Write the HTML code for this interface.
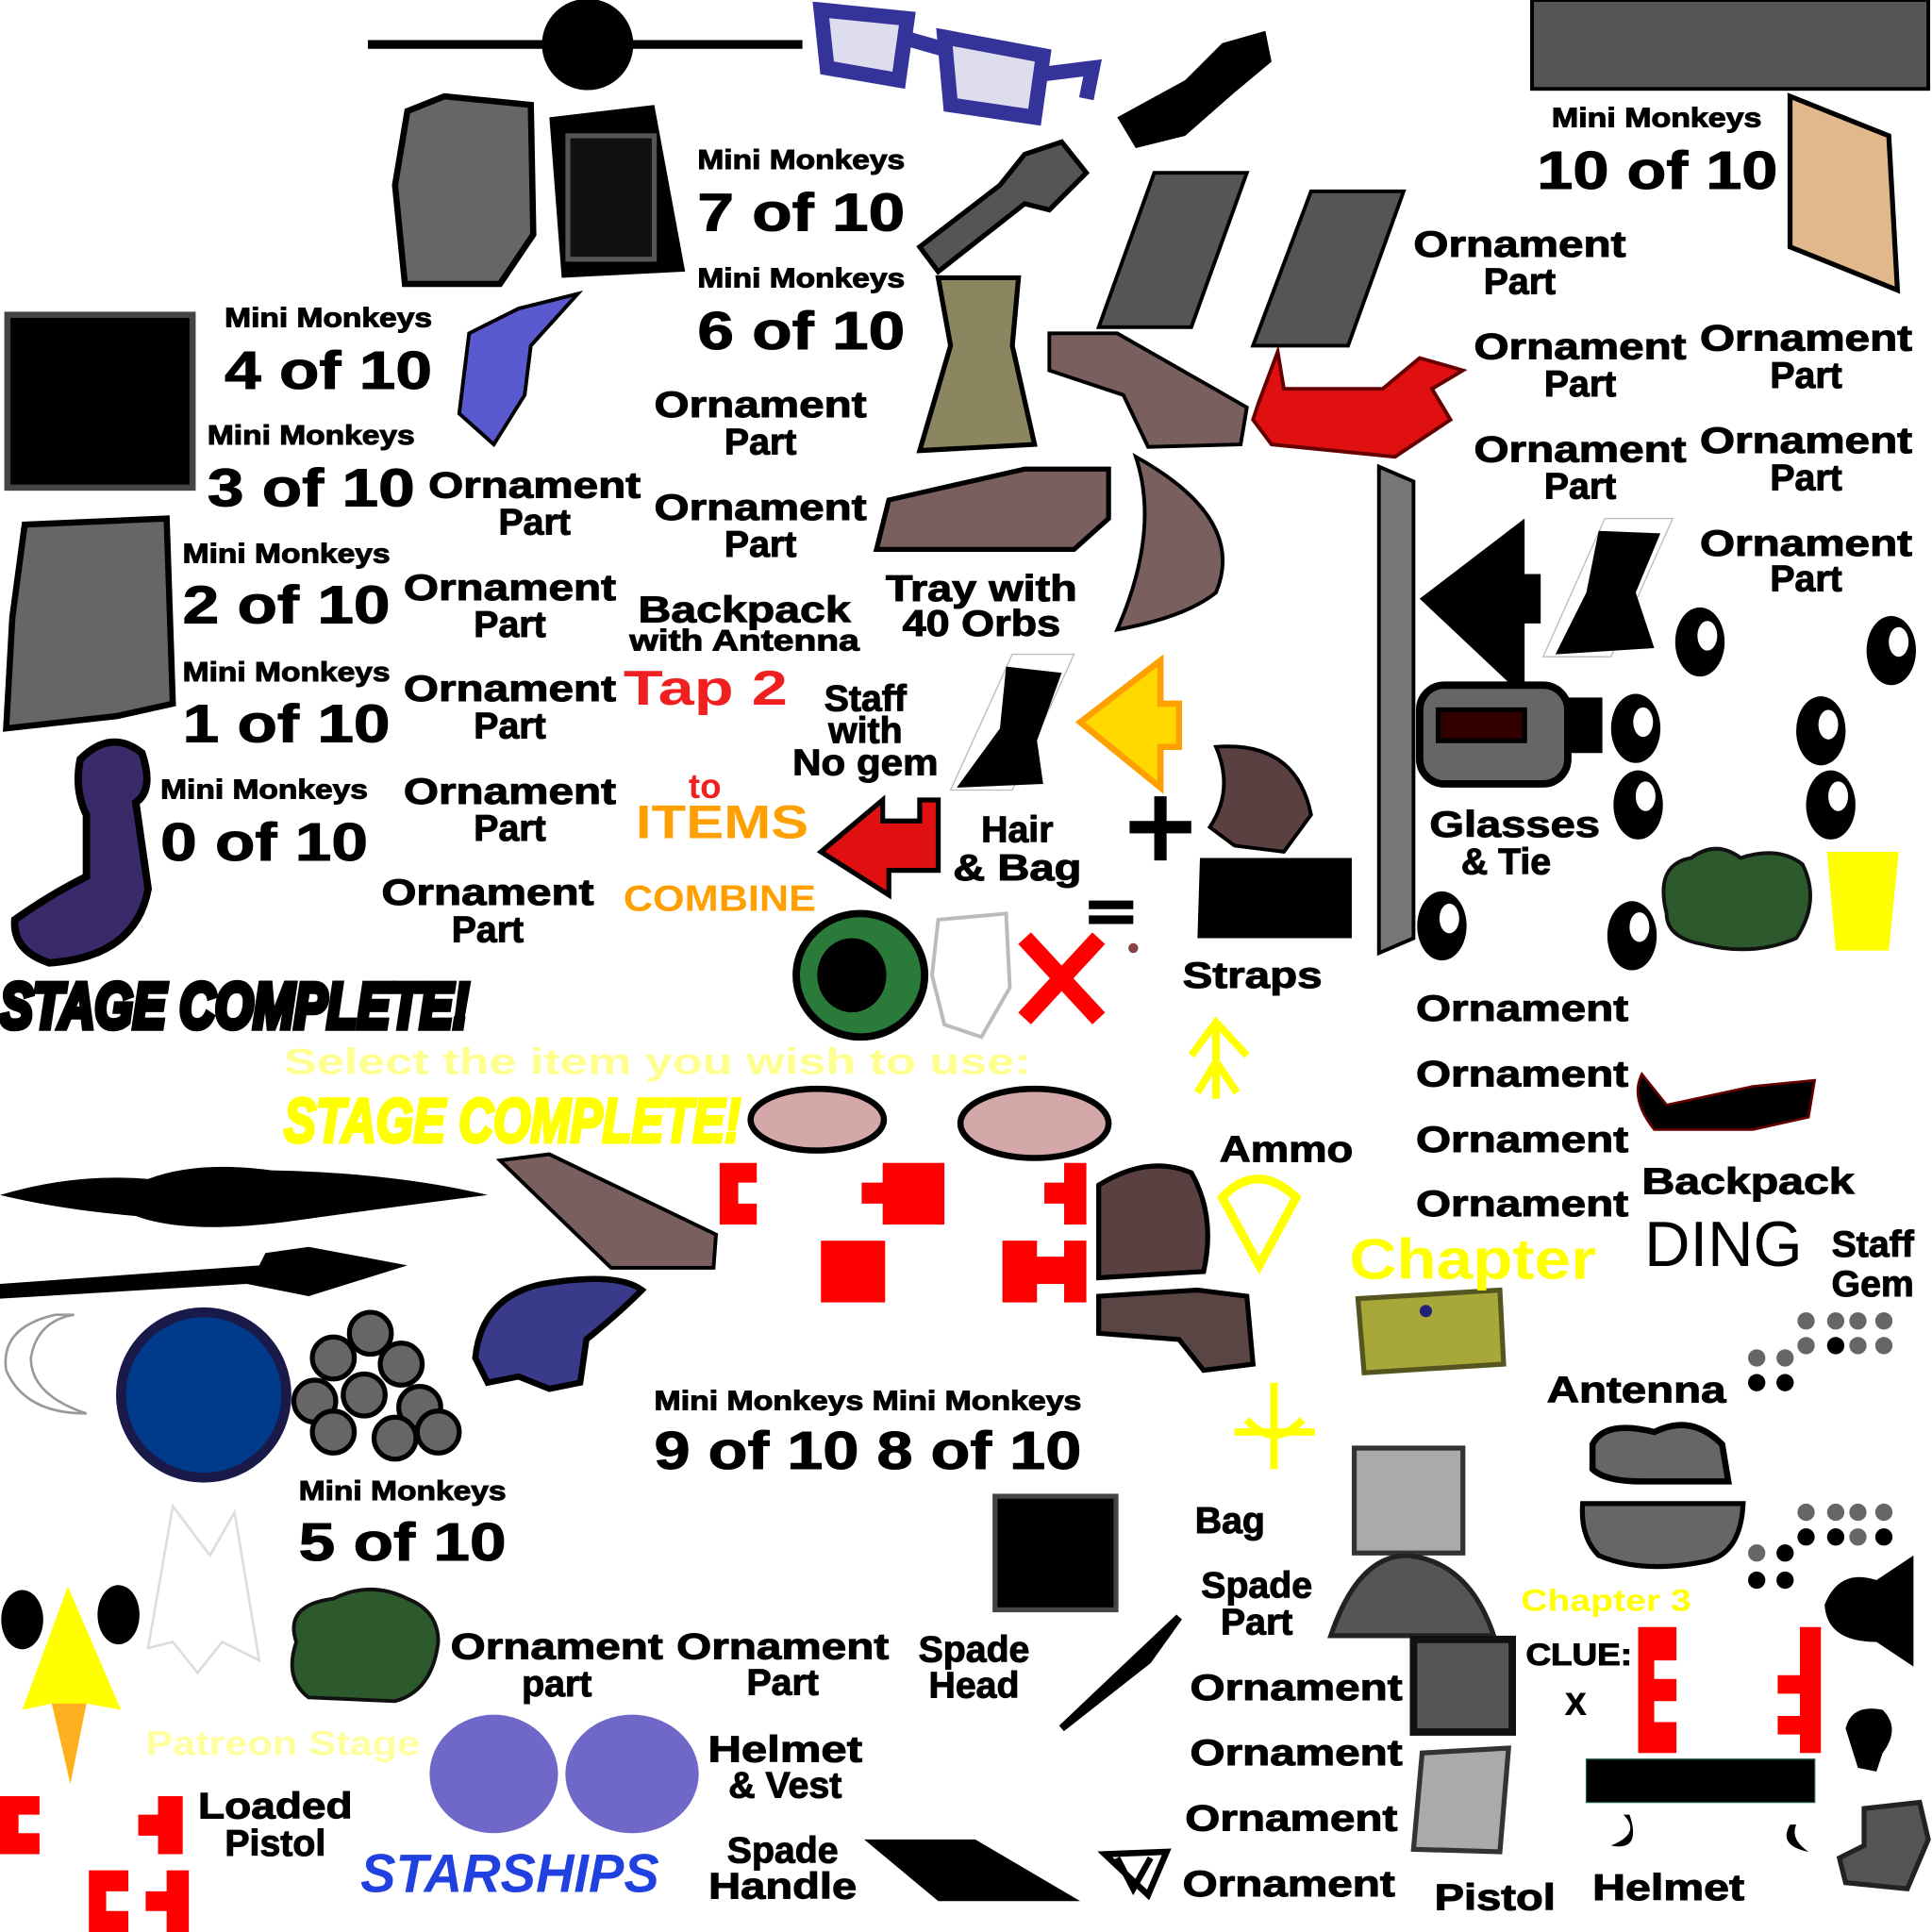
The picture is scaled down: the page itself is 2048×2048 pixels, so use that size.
<!DOCTYPE html>
<html><head><meta charset="utf-8"><style>
html,body{margin:0;padding:0;background:#fff}
svg{display:block}
text{font-family:"Liberation Sans",sans-serif;font-weight:bold;fill:#000;dominant-baseline:central;stroke:#000;stroke-width:0.8}
.mm{font-size:22px}.nn{font-size:43px}.op{font-size:30px}
.c{stroke:none}
</style></head><body>
<svg width="2048" height="2048" viewBox="0 0 1565 1565" xmlns="http://www.w3.org/2000/svg">
<rect width="1565" height="1565" fill="#fff"/>
<line x1="298" y1="36" x2="650" y2="36" stroke="#000" stroke-width="7"/>
<circle cx="476" cy="36" r="37" fill="#000"/>
<g fill="#dde" stroke="#33339a" stroke-width="12"><path d="M665 8 L735 15 L728 65 L670 55Z"/><path d="M765 30 L845 45 L838 95 L770 85Z"/></g>
<path d="M730 30 L765 40 M845 60 L885 55 L880 80" stroke="#33339a" stroke-width="12" fill="none"/>
<path d="M905 95 L960 65 L990 35 L1025 25 L1030 50 L1000 75 L960 110 L920 120Z" fill="#000"/>
<rect x="1241" y="0" width="321" height="72" fill="#555" stroke="#000" stroke-width="3"/>
<path d="M1450 78 L1530 110 L1537 235 L1450 200Z" fill="#e0b88c" stroke="#000" stroke-width="4"/>
<path d="M935 140 L1010 140 L965 265 L890 265Z" fill="#555" stroke="#000" stroke-width="3"/>
<path d="M1062 155 L1137 155 L1092 280 L1015 280Z" fill="#555" stroke="#000" stroke-width="3"/>
<path d="M330 90 L360 78 L430 85 L432 190 L405 230 L328 230 L320 150Z" fill="#666" stroke="#000" stroke-width="5"/>
<path d="M445 95 L530 85 L555 220 L455 225Z" fill="#000"/><rect x="460" y="110" width="70" height="100" fill="#111" stroke="#555" stroke-width="4"/>
<rect x="6" y="255" width="150" height="140" fill="#000" stroke="#444" stroke-width="5"/>
<path d="M20 425 L135 420 L140 570 L95 580 L5 590 L10 500Z" fill="#666" stroke="#000" stroke-width="5"/>
<path d="M380 270 L420 250 L468 238 L430 280 L425 320 L400 360 L372 335Z" fill="#5a5ad0" stroke="#000" stroke-width="3"/>
<path d="M745 200 L810 150 L830 125 L860 115 L880 140 L850 170 L830 165 L760 220Z" fill="#555" stroke="#000" stroke-width="4"/>
<path d="M760 225 L825 225 L820 280 L838 360 L745 365 L770 280Z" fill="#8c8660" stroke="#000" stroke-width="4"/>
<path d="M850 270 L905 270 L1010 330 L1005 360 L930 362 L910 320 L850 300Z" fill="#7a5f5f" stroke="#000" stroke-width="3"/>
<path d="M720 405 L830 380 L898 380 L898 420 L870 445 L710 445Z" fill="#7a5f5f" stroke="#000" stroke-width="4"/>
<path d="M920 370 Q1010 420 985 480 Q960 500 905 510 Q940 430 920 370Z" fill="#7a5f5f" stroke="#000" stroke-width="3"/>
<path d="M1020 325 L1035 285 L1040 315 L1120 315 L1150 290 L1185 300 L1160 315 L1175 340 L1130 370 L1030 360 L1015 340Z" fill="#e01010" stroke="#600" stroke-width="3"/>
<path d="M1117 378 L1145 390 L1145 760 L1117 772Z" fill="#777" stroke="#000" stroke-width="3"/>
<path d="M1150 485 L1235 420 L1235 465 L1248 465 L1248 505 L1235 505 L1235 565Z" fill="#000"/>
<path d="M1300 420 L1355 420 L1305 532 L1250 532Z" fill="#fff" stroke="#bbb"/>
<path d="M1295 430 L1345 432 L1325 480 L1340 525 L1260 530 L1285 480Z" fill="#000"/>
<path d="M820 530 L870 530 L820 640 L770 640Z" fill="#fff" stroke="#bbb"/>
<path d="M815 540 L860 545 L840 600 L845 635 L775 638 L810 590Z" fill="#000"/>
<g fill="#000"><ellipse cx="1377" cy="520" rx="20" ry="28"/><ellipse cx="1532" cy="527" rx="20" ry="28"/><ellipse cx="1325" cy="590" rx="20" ry="28"/><ellipse cx="1475" cy="592" rx="20" ry="28"/><ellipse cx="1327" cy="652" rx="20" ry="28"/><ellipse cx="1483" cy="652" rx="20" ry="28"/><ellipse cx="1168" cy="750" rx="20" ry="28"/><ellipse cx="1322" cy="758" rx="20" ry="28"/></g>
<g fill="#fff"><ellipse cx="1383" cy="515" rx="8" ry="12"/><ellipse cx="1538" cy="520" rx="8" ry="12"/><ellipse cx="1331" cy="585" rx="8" ry="12"/><ellipse cx="1481" cy="587" rx="8" ry="12"/><ellipse cx="1333" cy="645" rx="8" ry="12"/><ellipse cx="1489" cy="645" rx="8" ry="12"/><ellipse cx="1174" cy="744" rx="8" ry="12"/><ellipse cx="1328" cy="751" rx="8" ry="12"/></g>
<rect x="1150" y="555" width="120" height="80" rx="20" fill="#666" stroke="#000" stroke-width="6"/><rect x="1270" y="565" width="28" height="45" fill="#000"/><rect x="1165" y="575" width="70" height="25" fill="#300" stroke="#000" stroke-width="4"/>
<path d="M1350 740 Q1340 700 1370 695 Q1390 680 1410 695 Q1440 685 1460 700 Q1475 730 1455 760 Q1420 775 1380 765 Q1350 760 1350 740Z" fill="#2c5a2c" stroke="#111" stroke-width="3"/>
<path d="M1480 690 L1538 690 L1530 770 L1487 770Z" fill="#ffff00"/>
<path d="M65 615 Q90 590 115 610 Q125 640 110 650 L120 720 Q110 775 40 780 Q10 770 12 745 Q40 725 70 710 L70 660 Q60 640 65 615Z" fill="#3a2a6a" stroke="#000" stroke-width="6"/>
<text x="0" y="815" font-size="52" font-style="italic" textLength="380" lengthAdjust="spacingAndGlyphs" style="stroke-width:5">STAGE COMPLETE!</text>
<path d="M875 585 L940 535 L940 570 L955 570 L955 605 L940 605 L940 638Z" fill="#ffd800" stroke="#ffa000" stroke-width="5"/>
<path d="M665 690 L715 648 L715 665 L745 665 L745 648 L760 648 L760 705 L720 705 L720 725Z" fill="#e01010" stroke="#000" stroke-width="4"/>
<path d="M915 670 L965 670 M940 645 L940 697" stroke="#000" stroke-width="10"/>
<path d="M882 733 L918 733 M882 745 L918 745" stroke="#000" stroke-width="7"/>
<path d="M985 605 Q1050 600 1062 660 L1040 690 L1000 685 L980 670 Q1000 640 985 605Z" fill="#5a4040" stroke="#000" stroke-width="3"/>
<path d="M972 695 L1095 695 L1095 760 L970 760Z" fill="#000"/>
<ellipse cx="697" cy="790" rx="52" ry="50" fill="#2a7a3a" stroke="#000" stroke-width="6"/><ellipse cx="690" cy="790" rx="28" ry="30" fill="#000"/>
<path d="M760 745 L815 740 L818 800 L795 840 L765 830 L755 790Z" fill="#fff" stroke="#bbb" stroke-width="3"/>
<path d="M830 760 L890 825 M890 760 L830 825" stroke="#f00" stroke-width="14"/>
<circle cx="918" cy="768" r="4" fill="#844"/>
<path d="M985 890 L985 830 M965 855 L985 828 L1010 855 M985 860 L970 885 M985 860 L1002 885" stroke="#ffff00" stroke-width="6" fill="none"/>
<path d="M990 970 Q1018 940 1050 970 L1020 1025Z" fill="none" stroke="#ffff00" stroke-width="7"/>
<path d="M1032 1120 L1032 1190 M1000 1160 L1065 1160 M1010 1150 Q1032 1175 1055 1150" stroke="#ffff00" stroke-width="6" fill="none"/>
<ellipse cx="662" cy="907" rx="54" ry="25" fill="#d4a8a8" stroke="#000" stroke-width="5"/>
<ellipse cx="838" cy="910" rx="60" ry="28" fill="#d4a8a8" stroke="#000" stroke-width="5"/>
<g fill="#f00"><path d="M583 942 L613 942 L613 958 L598 958 L598 975 L613 975 L613 992 L583 992Z"/><path d="M715 942 L765 942 L765 992 L715 992 L715 975 L698 975 L698 958 L715 958Z"/><rect x="665" y="1005" width="52" height="50"/><path d="M862 942 L880 942 L880 992 L862 992 L862 975 L846 975 L846 958 L862 958Z"/><path d="M812 1005 L840 1005 L840 1018 L862 1018 L862 1005 L880 1005 L880 1055 L862 1055 L862 1040 L840 1040 L840 1055 L812 1055Z"/>
<path d="M0 1455 L32 1455 L32 1470 L15 1470 L15 1485 L32 1485 L32 1502 L0 1502Z"/><path d="M128 1455 L148 1455 L148 1502 L128 1502 L128 1487 L112 1487 L112 1470 L128 1470Z"/><path d="M72 1515 L104 1515 L104 1532 L86 1532 L86 1548 L104 1548 L104 1565 L72 1565Z"/><path d="M135 1515 L153 1515 L153 1565 L135 1565 L135 1548 L118 1548 L118 1532 L135 1532Z"/>
<path d="M1327 1318 L1358 1318 L1358 1345 L1340 1345 L1340 1360 L1358 1360 L1358 1378 L1340 1378 L1340 1395 L1358 1395 L1358 1420 L1327 1420Z"/><path d="M1458 1318 L1475 1318 L1475 1420 L1458 1420 L1458 1405 L1440 1405 L1440 1390 L1458 1390 L1458 1372 L1440 1372 L1440 1357 L1458 1357Z"/></g>
<path d="M405 940 L445 935 L580 1000 L578 1027 L495 1027Z" fill="#7a5f5f" stroke="#000" stroke-width="3"/>
<path d="M0 968 Q60 950 120 955 Q160 940 220 948 Q320 950 395 968 Q300 980 230 990 Q150 1000 110 985 Q50 980 0 968Z" fill="#000"/>
<path d="M0 1040 L210 1025 L215 1015 L250 1010 L330 1025 L250 1050 L200 1040 L0 1052Z" fill="#000"/>
<path d="M45 1065 Q0 1075 5 1110 Q20 1145 70 1145 Q25 1130 25 1100 Q30 1070 60 1065Z" fill="#fff" stroke="#999" stroke-width="2"/>
<circle cx="165" cy="1130" r="67" fill="#003a8a" stroke="#1a1a4a" stroke-width="8"/>
<g fill="#666" stroke="#000" stroke-width="4"><circle cx="300" cy="1080" r="17"/><circle cx="270" cy="1100" r="17"/><circle cx="325" cy="1105" r="17"/><circle cx="255" cy="1135" r="17"/><circle cx="295" cy="1130" r="17"/><circle cx="340" cy="1140" r="17"/><circle cx="270" cy="1160" r="17"/><circle cx="320" cy="1165" r="17"/><circle cx="355" cy="1160" r="17"/></g>
<path d="M385 1100 Q390 1050 440 1040 Q500 1030 520 1045 Q500 1065 475 1085 L470 1120 L445 1125 L420 1115 L395 1120Z" fill="#3a3a8a" stroke="#000" stroke-width="5"/>
<path d="M890 960 Q930 935 965 950 Q985 985 975 1030 L890 1035Z" fill="#5a4040" stroke="#000" stroke-width="4"/>
<path d="M890 1050 L970 1045 L1010 1050 L1015 1105 L975 1110 L955 1085 L890 1080Z" fill="#5a4545" stroke="#000" stroke-width="4"/>
<path d="M1330 870 L1350 895 L1420 880 L1470 875 L1465 905 L1420 915 L1340 915 Q1320 890 1330 870Z" fill="#000" stroke="#600" stroke-width="2"/>
<path d="M1100 1052 L1215 1045 L1218 1105 L1105 1112Z" fill="#a8a83a" stroke="#555520" stroke-width="4"/><circle cx="1155" cy="1062" r="5" fill="#22227a"/>
<g fill="#666"><circle cx="1463" cy="1070" r="7"/><circle cx="1487" cy="1070" r="7"/><circle cx="1505" cy="1070" r="7"/><circle cx="1526" cy="1070" r="7"/><circle cx="1463" cy="1090" r="7"/><circle cx="1505" cy="1090" r="7"/><circle cx="1526" cy="1090" r="7"/><circle cx="1423" cy="1100" r="7"/><circle cx="1446" cy="1100" r="7"/>
<circle cx="1463" cy="1225" r="7"/><circle cx="1487" cy="1225" r="7"/><circle cx="1505" cy="1225" r="7"/><circle cx="1526" cy="1225" r="7"/><circle cx="1505" cy="1245" r="7"/><circle cx="1423" cy="1258" r="7"/></g>
<g fill="#000"><circle cx="1487" cy="1090" r="7"/><circle cx="1423" cy="1120" r="7"/><circle cx="1446" cy="1120" r="7"/><circle cx="1463" cy="1245" r="7"/><circle cx="1487" cy="1245" r="7"/><circle cx="1526" cy="1245" r="7"/><circle cx="1446" cy="1258" r="7"/><circle cx="1423" cy="1280" r="7"/><circle cx="1446" cy="1280" r="7"/></g>
<path d="M1290 1170 Q1300 1150 1340 1160 Q1370 1145 1395 1170 L1400 1200 L1330 1200 Q1300 1200 1290 1190Z" fill="#666" stroke="#000" stroke-width="5"/>
<path d="M1282 1218 L1412 1218 Q1410 1260 1380 1265 Q1330 1275 1295 1260 Q1280 1245 1282 1218Z" fill="#666" stroke="#000" stroke-width="4"/>
<rect x="1097" y="1173" width="88" height="85" fill="#aaa" stroke="#333" stroke-width="4"/>
<path d="M1078 1325 Q1100 1260 1140 1260 Q1190 1265 1210 1325Z" fill="#555" stroke="#222" stroke-width="4"/>
<rect x="1145" y="1328" width="80" height="75" fill="#555" stroke="#111" stroke-width="6"/>
<path d="M1152 1420 L1222 1416 L1215 1500 L1145 1498Z" fill="#aaa" stroke="#333" stroke-width="4"/>
<path d="M1478 1300 Q1490 1270 1520 1280 L1550 1260 L1550 1350 L1520 1330 Q1480 1330 1478 1300Z" fill="#000"/>
<path d="M1495 1400 Q1500 1380 1525 1385 Q1540 1400 1525 1420 L1520 1435 L1505 1432 Z" fill="#000"/>
<path d="M1510 1465 L1555 1460 L1562 1490 L1545 1530 L1495 1525 L1490 1505 L1510 1495Z" fill="#555" stroke="#222" stroke-width="4"/>
<rect x="1285" y="1425" width="185" height="35" fill="#000" stroke="#1a5a3a" stroke-width="1"/>
<path d="M1315 1470 Q1330 1485 1305 1495 Q1330 1500 1320 1470Z" fill="#000"/><path d="M1450 1478 Q1440 1495 1465 1500 Q1450 1490 1455 1478Z" fill="#000"/>
<rect x="806" y="1212" width="98" height="92" fill="#000" stroke="#444" stroke-width="4"/>
<path d="M860 1400 L955 1310 L930 1345Z" fill="#000" stroke="#000" stroke-width="6"/>
<path d="M700 1490 L790 1490 L875 1540 L760 1540Z" fill="#000"/>
<path d="M895 1502 L945 1500 L930 1535Z M905 1505 L918 1530 L932 1505" fill="none" stroke="#000" stroke-width="5"/>
<ellipse cx="400" cy="1437" rx="52" ry="48" fill="#7068c8"/><ellipse cx="512" cy="1437" rx="54" ry="48" fill="#7068c8"/>
<path d="M240 1330 Q230 1300 270 1295 Q300 1280 330 1295 Q355 1305 355 1330 Q350 1370 320 1378 L250 1375 Q230 1360 240 1330Z" fill="#2c5a2c" stroke="#111" stroke-width="3"/>
<ellipse cx="18" cy="1312" rx="17" ry="24" fill="#000"/><ellipse cx="96" cy="1308" rx="17" ry="24" fill="#000"/>
<path d="M55 1285 L98 1385 L70 1380 L57 1445 L42 1380 L18 1385Z" fill="#ffff00"/><path d="M42 1380 L70 1380 L57 1445Z" fill="#ffb020"/>
<path d="M120 1335 L140 1220 L170 1260 L190 1225 L210 1345 L180 1330 L160 1355 L140 1330Z" fill="#fff" stroke="#ddd" stroke-width="2"/>
<!-- TEXTS -->
<text class="mm" x="1257" y="96" textLength="170" lengthAdjust="spacingAndGlyphs">Mini Monkeys</text>
<text class="nn" x="1245" y="138" textLength="195" lengthAdjust="spacingAndGlyphs">10 of 10</text>
<text class="mm" x="565" y="130" textLength="168" lengthAdjust="spacingAndGlyphs">Mini Monkeys</text>
<text class="nn" x="565" y="172" textLength="168" lengthAdjust="spacingAndGlyphs">7 of 10</text>
<text class="mm" x="565" y="226" textLength="168" lengthAdjust="spacingAndGlyphs">Mini Monkeys</text>
<text class="nn" x="565" y="268" textLength="168" lengthAdjust="spacingAndGlyphs">6 of 10</text>
<text class="mm" x="182" y="258" textLength="168" lengthAdjust="spacingAndGlyphs">Mini Monkeys</text>
<text class="nn" x="182" y="300" textLength="168" lengthAdjust="spacingAndGlyphs">4 of 10</text>
<text class="mm" x="168" y="353" textLength="168" lengthAdjust="spacingAndGlyphs">Mini Monkeys</text>
<text class="nn" x="168" y="395" textLength="168" lengthAdjust="spacingAndGlyphs">3 of 10</text>
<text class="mm" x="148" y="449" textLength="168" lengthAdjust="spacingAndGlyphs">Mini Monkeys</text>
<text class="nn" x="148" y="490" textLength="168" lengthAdjust="spacingAndGlyphs">2 of 10</text>
<text class="mm" x="148" y="545" textLength="168" lengthAdjust="spacingAndGlyphs">Mini Monkeys</text>
<text class="nn" x="148" y="586" textLength="168" lengthAdjust="spacingAndGlyphs">1 of 10</text>
<text class="mm" x="130" y="640" textLength="168" lengthAdjust="spacingAndGlyphs">Mini Monkeys</text>
<text class="nn" x="130" y="682" textLength="168" lengthAdjust="spacingAndGlyphs">0 of 10</text>
<text class="mm" x="530" y="1135" textLength="346" lengthAdjust="spacingAndGlyphs">Mini Monkeys Mini Monkeys</text>
<text class="nn" x="530" y="1175" textLength="346" lengthAdjust="spacingAndGlyphs">9 of 10 8 of 10</text>
<text class="mm" x="242" y="1208" textLength="168" lengthAdjust="spacingAndGlyphs">Mini Monkeys</text>
<text class="nn" x="242" y="1249" textLength="168" lengthAdjust="spacingAndGlyphs">5 of 10</text>
<g text-anchor="middle">
<text class="op" x="1231" y="198" textLength="172" lengthAdjust="spacingAndGlyphs">Ornament</text><text class="op" x="1231" y="228">Part</text>
<text class="op" x="1280" y="281" textLength="172" lengthAdjust="spacingAndGlyphs">Ornament</text><text class="op" x="1280" y="311">Part</text>
<text class="op" x="1463" y="274" textLength="172" lengthAdjust="spacingAndGlyphs">Ornament</text><text class="op" x="1463" y="304">Part</text>
<text class="op" x="1280" y="364" textLength="172" lengthAdjust="spacingAndGlyphs">Ornament</text><text class="op" x="1280" y="394">Part</text>
<text class="op" x="1463" y="357" textLength="172" lengthAdjust="spacingAndGlyphs">Ornament</text><text class="op" x="1463" y="387">Part</text>
<text class="op" x="1463" y="440" textLength="172" lengthAdjust="spacingAndGlyphs">Ornament</text><text class="op" x="1463" y="469">Part</text>
<text class="op" x="616" y="328" textLength="172" lengthAdjust="spacingAndGlyphs">Ornament</text><text class="op" x="616" y="358">Part</text>
<text class="op" x="616" y="411" textLength="172" lengthAdjust="spacingAndGlyphs">Ornament</text><text class="op" x="616" y="441">Part</text>
<text class="op" x="433" y="393" textLength="172" lengthAdjust="spacingAndGlyphs">Ornament</text><text class="op" x="433" y="423">Part</text>
<text class="op" x="413" y="476" textLength="172" lengthAdjust="spacingAndGlyphs">Ornament</text><text class="op" x="413" y="506">Part</text>
<text class="op" x="413" y="558" textLength="172" lengthAdjust="spacingAndGlyphs">Ornament</text><text class="op" x="413" y="588">Part</text>
<text class="op" x="413" y="641" textLength="172" lengthAdjust="spacingAndGlyphs">Ornament</text><text class="op" x="413" y="671">Part</text>
<text class="op" x="395" y="723" textLength="172" lengthAdjust="spacingAndGlyphs">Ornament</text><text class="op" x="395" y="753">Part</text>
<text class="op" x="603" y="494" textLength="172" lengthAdjust="spacingAndGlyphs">Backpack</text><text x="603" y="519" font-size="24" textLength="186" lengthAdjust="spacingAndGlyphs">with Antenna</text>
<text class="op" x="795" y="477" textLength="155" lengthAdjust="spacingAndGlyphs">Tray with</text><text class="op" x="795" y="505" textLength="128" lengthAdjust="spacingAndGlyphs">40 Orbs</text>
<text class="op" x="701" y="566">Staff</text><text class="op" x="701" y="592">with</text><text class="op" x="701" y="618" textLength="118" lengthAdjust="spacingAndGlyphs">No gem</text>
<text class="op" x="824" y="672">Hair</text><text class="op" x="824" y="703" textLength="104" lengthAdjust="spacingAndGlyphs">&amp; Bag</text>
<text class="op" x="1227" y="668" textLength="138" lengthAdjust="spacingAndGlyphs">Glasses</text><text class="op" x="1220" y="698">&amp; Tie</text>
<text class="op" x="1517" y="1008">Staff</text><text class="op" x="1517" y="1040">Gem</text>
<text class="op" x="1018" y="1284">Spade</text><text class="op" x="1018" y="1314">Part</text>
<text class="op" x="451" y="1334" textLength="172" lengthAdjust="spacingAndGlyphs">Ornament</text><text class="op" x="451" y="1364">part</text>
<text class="op" x="634" y="1334" textLength="172" lengthAdjust="spacingAndGlyphs">Ornament</text><text class="op" x="634" y="1363">Part</text>
<text class="op" x="789" y="1336">Spade</text><text class="op" x="789" y="1365">Head</text>
<text class="op" x="636" y="1417" textLength="125" lengthAdjust="spacingAndGlyphs">Helmet</text><text class="op" x="636" y="1446">&amp; Vest</text>
<text class="op" x="223" y="1463" textLength="125" lengthAdjust="spacingAndGlyphs">Loaded</text><text class="op" x="223" y="1493">Pistol</text>
<text class="op" x="634" y="1499">Spade</text><text class="op" x="634" y="1528" textLength="120" lengthAdjust="spacingAndGlyphs">Handle</text>
</g>
<text class="op" x="1147" y="817" textLength="172" lengthAdjust="spacingAndGlyphs">Ornament</text>
<text class="op" x="1147" y="870" textLength="172" lengthAdjust="spacingAndGlyphs">Ornament</text>
<text class="op" x="1147" y="923" textLength="172" lengthAdjust="spacingAndGlyphs">Ornament</text>
<text class="op" x="1147" y="975" textLength="172" lengthAdjust="spacingAndGlyphs">Ornament</text>
<text class="op" x="1330" y="957" textLength="172" lengthAdjust="spacingAndGlyphs">Backpack</text>
<text class="op" x="958" y="790" textLength="113" lengthAdjust="spacingAndGlyphs">Straps</text>
<text class="op" x="988" y="931" textLength="108" lengthAdjust="spacingAndGlyphs">Ammo</text>
<text class="op" x="1253" y="1126" textLength="145" lengthAdjust="spacingAndGlyphs">Antenna</text>
<text class="op" x="968" y="1232">Bag</text>
<text class="op" x="964" y="1367" textLength="172" lengthAdjust="spacingAndGlyphs">Ornament</text>
<text class="op" x="964" y="1420" textLength="172" lengthAdjust="spacingAndGlyphs">Ornament</text>
<text class="op" x="960" y="1473" textLength="172" lengthAdjust="spacingAndGlyphs">Ornament</text>
<text class="op" x="958" y="1526" textLength="172" lengthAdjust="spacingAndGlyphs">Ornament</text>
<text class="op" x="1162" y="1537" textLength="98" lengthAdjust="spacingAndGlyphs">Pistol</text>
<text class="op" x="1290" y="1529" textLength="123" lengthAdjust="spacingAndGlyphs">Helmet</text>
<text x="1236" y="1340" font-size="25" textLength="86" lengthAdjust="spacingAndGlyphs">CLUE:</text>
<text x="1268" y="1380" font-size="25">X</text>
<text class="c" x="1332" y="1008" font-size="52" style="font-weight:normal" textLength="128" lengthAdjust="spacingAndGlyphs">DING</text>
<text class="c" x="505" y="558" font-size="40" style="fill:#f02020" textLength="133" lengthAdjust="spacingAndGlyphs">Tap 2</text>
<text class="c" x="571" y="637" font-size="28" text-anchor="middle" style="fill:#f02020">to</text>
<text class="c" x="585" y="666" font-size="38" text-anchor="middle" style="fill:#ffa000" textLength="140" lengthAdjust="spacingAndGlyphs">ITEMS</text>
<text class="c" x="505" y="728" font-size="30" style="fill:#ffa000" textLength="156" lengthAdjust="spacingAndGlyphs">COMBINE</text>
<text class="c" x="1093" y="1020" font-size="46" style="fill:#ffff00" textLength="200" lengthAdjust="spacingAndGlyphs">Chapter</text>
<text class="c" x="1232" y="1296" font-size="25" style="fill:#ffff00" textLength="138" lengthAdjust="spacingAndGlyphs">Chapter 3</text>
<text class="c" x="230" y="860" font-size="30" style="fill:#ffff90" textLength="605" lengthAdjust="spacingAndGlyphs">Select the item you wish to use:</text>
<text x="230" y="908" font-size="50" font-style="italic" style="fill:#ffff00;stroke:#ffff00;stroke-width:3" textLength="370" lengthAdjust="spacingAndGlyphs">STAGE COMPLETE!</text>
<text class="c" x="118" y="1412" font-size="28" style="fill:#ffffa0" textLength="222" lengthAdjust="spacingAndGlyphs">Patreon Stage</text>
<text class="c" x="292" y="1518" font-size="44" font-style="italic" style="fill:#2040e0" textLength="242" lengthAdjust="spacingAndGlyphs">STARSHIPS</text>
</svg>
</body></html>
